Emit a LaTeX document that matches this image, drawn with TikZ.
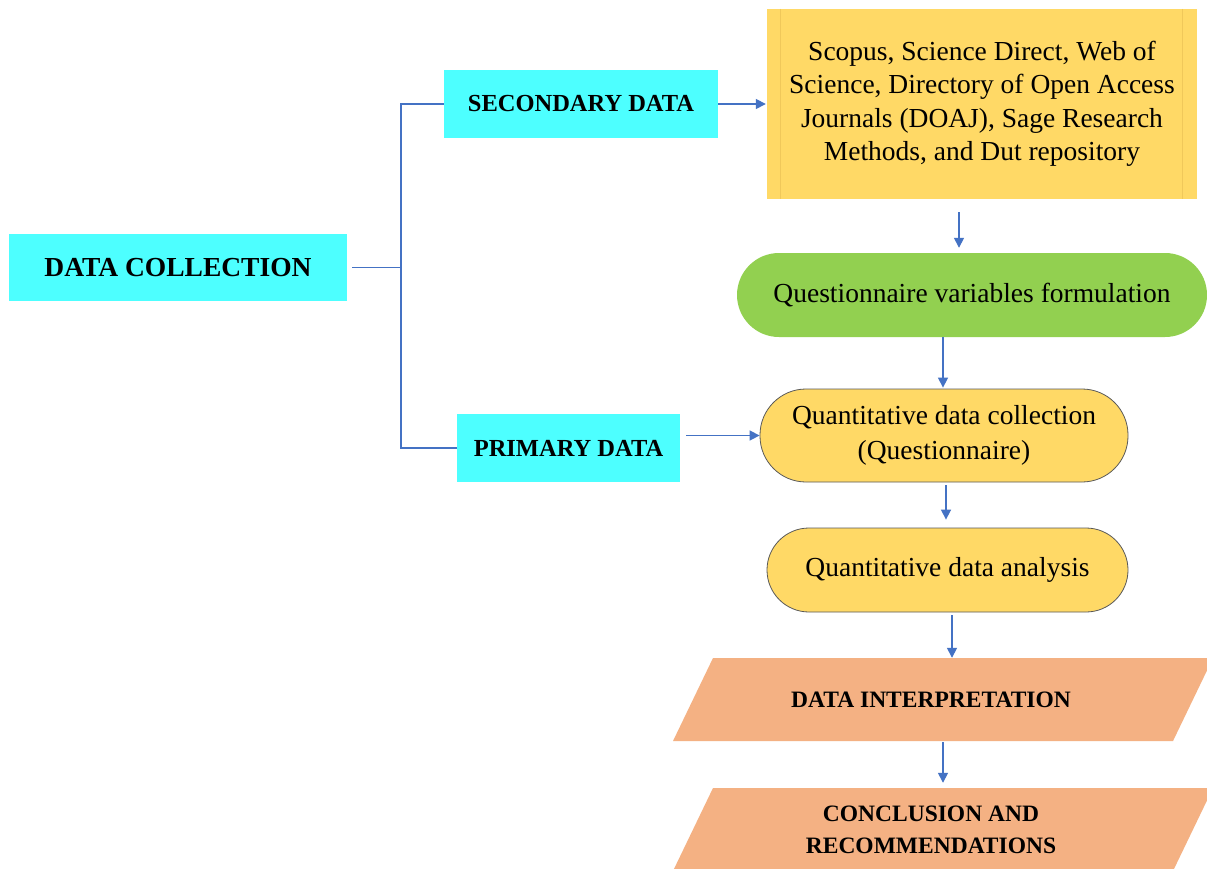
\documentclass[tikz,border=0pt]{standalone}
\usepackage{fontspec}
\setmainfont{Liberation Serif}
\usetikzlibrary{arrows.meta}

\definecolor{cyanfill}{HTML}{4DFFFF}
\definecolor{goldfill}{HTML}{FFD966}
\definecolor{goldline}{HTML}{F0C85A}
\definecolor{greenfill}{HTML}{92D050}
\definecolor{peachfill}{HTML}{F4B183}
\definecolor{linkblue}{HTML}{4472C4}

\tikzset{
  base/.style={inner sep=0pt, align=center, text=black},
  catbox/.style={base, rectangle, fill=cyanfill, font=\bfseries\fontsize{24.5}{29}\selectfont},
  sourcebox/.style={base, rectangle, fill=goldfill,
    font=\fontsize{27.5}{33.5}\selectfont,
    path picture={
      \draw[goldline, line width=0.8pt]
        ([xshift=13pt]path picture bounding box.north west) --
        ([xshift=13pt]path picture bounding box.south west);
      \draw[goldline, line width=0.8pt]
        ([xshift=-15pt]path picture bounding box.north east) --
        ([xshift=-15pt]path picture bounding box.south east);
    }},
  pill/.style={base, rectangle, rounded corners=#1, font=\fontsize{27.5}{34.5}\selectfont},
  iobox/.style={base, rectangle, fill=white,
    font=\bfseries\fontsize{23.5}{32}\selectfont,
    path picture={
      \fill[peachfill]
        ([xshift=24pt]path picture bounding box.south west) --
        ([xshift=64pt]path picture bounding box.north west) --
        (path picture bounding box.north east) --
        ([xshift=-40pt]path picture bounding box.south east) -- cycle;
    }},
  link/.style={draw=linkblue, line width=1.5pt},
  arr/.style={link, -{Triangle[length=10pt,width=10pt]}},
}

\begin{document}
\begin{tikzpicture}[x=1pt, y=-1pt]
  \useasboundingbox (0,0) rectangle (1207,869);
  \fill[white] (0,0) rectangle (1207,869);
  \clip (0,0) rectangle (1207,869);

  % left-hand tree
  \node[catbox, minimum width=338pt, minimum height=67pt,
        font=\bfseries\fontsize{27.5}{33}\selectfont]
    (dc) at (178,267.5) {DATA COLLECTION};
  \node[catbox, minimum width=274pt, minimum height=68pt]
    (sec) at (581,104) {SECONDARY DATA};
  \node[catbox, minimum width=223pt, minimum height=68pt]
    (prim) at (568.5,448) {PRIMARY DATA};

  % right-hand flow
  \node[sourcebox, minimum width=430pt, minimum height=190pt]
    (src) at (982,104)
    {Scopus, Science Direct, Web of\\
     Science, Directory of Open Access\\
     Journals (DOAJ), Sage Research\\
     Methods, and Dut repository};
  \node[pill=42pt, fill=greenfill, minimum width=470pt, minimum height=84pt]
    (var) at (972,295) {Questionnaire variables formulation};
  \node[pill=46pt, fill=goldfill, draw=black!65, line width=0.8pt,
        minimum width=368pt, minimum height=93pt]
    (qcol) at (944,435.5) {Quantitative data collection\\(Questionnaire)};
  \node[pill=42pt, fill=goldfill, draw=black!65, line width=0.8pt,
        minimum width=361pt, minimum height=84pt]
    (qan) at (947.5,570) {Quantitative data analysis};
  \node[iobox, minimum width=564pt, minimum height=83pt]
    (interp) at (931,699.5) {DATA INTERPRETATION};
  \node[iobox, minimum width=564pt, minimum height=83pt]
    (conc) at (931,829.5) {CONCLUSION AND\\RECOMMENDATIONS};

  % tree connectors
  \coordinate (split) at (401,267.5);
  \draw[link, shorten <=5pt] (dc.east) -- (split);
  \draw[link] (sec.west) -| (split) |- (prim.west);

  % flow arrows
  \draw[arr, shorten >=1pt] (sec.east) -- (src.west);
  \draw[arr, shorten <=6pt] (prim.east |- qcol.west) -- (qcol.west);
  \draw[arr, shorten <=13pt, shorten >=5pt]
    ([xshift=-23pt]src.south) -- ([xshift=-23pt]src.south |- var.north);
  \draw[arr, shorten >=1pt]
    ([xshift=-29pt]var.south) -- ([xshift=-29pt]var.south |- qcol.north);
  \draw[arr, shorten <=3pt, shorten >=8pt]
    ([xshift=2pt]qcol.south) -- ([xshift=2pt]qcol.south |- qan.north);
  \draw[arr, shorten <=3pt]
    ([xshift=4.5pt]qan.south) -- ([xshift=4.5pt]qan.south |- interp.north);
  \draw[arr, shorten <=1pt, shorten >=5pt]
    ([xshift=12pt]interp.south) -- ([xshift=12pt]interp.south |- conc.north);
\end{tikzpicture}
\end{document}
